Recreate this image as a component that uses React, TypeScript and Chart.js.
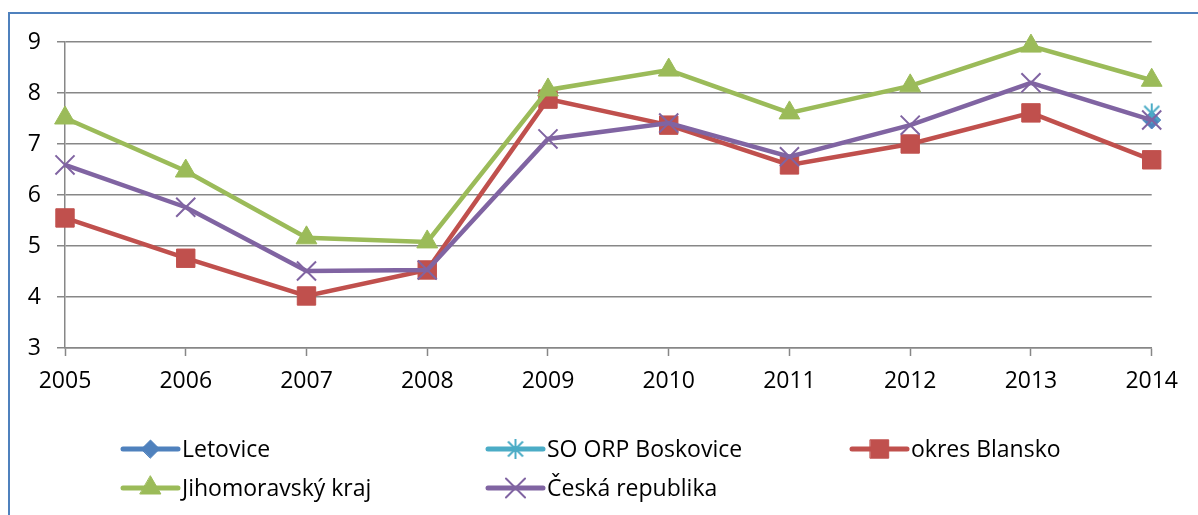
import React, { useEffect, useRef } from 'react';
import { Chart, registerables } from 'chart.js';
import { drawPoint } from 'chart.js/helpers';

Chart.register(...registerables);

const years = ['2005', '2006', '2007', '2008', '2009', '2010', '2011', '2012', '2013', '2014'];
const seriesNames = ['Letovice', 'SO ORP Boskovice', 'okres Blansko', 'Jihomoravský kraj', 'Česká republika'];
const letovice = [null, null, null, null, null, null, null, null, null, 7.47];
const soOrpBoskovice = [null, null, null, null, null, null, null, null, null, 7.6];
const okresBlansko = [5.55, 4.76, 4.02, 4.53, 7.88, 7.37, 6.59, 7.0, 7.61, 6.69];
const jihomoravskyKraj = [7.51, 6.47, 5.16, 5.08, 8.06, 8.45, 7.61, 8.14, 8.92, 8.25];
const ceskaRepublika = [6.59, 5.76, 4.51, 4.53, 7.1, 7.41, 6.75, 7.37, 8.2, 7.47];
const yMin = 3;
const yMax = 9;
const yStep = 1;

const FONT = '"Open Sans", "Liberation Sans", sans-serif';
const GRID = '#878787';

function makeAsterisk(color: string): HTMLCanvasElement {
  const c = document.createElement('canvas');
  c.width = 22;
  c.height = 22;
  const ctx = c.getContext('2d')!;
  ctx.strokeStyle = color;
  ctx.lineWidth = 2;
  ctx.beginPath();
  ctx.moveTo(11, 1);
  ctx.lineTo(11, 21);
  ctx.moveTo(3.5, 3.5);
  ctx.lineTo(18.5, 18.5);
  ctx.moveTo(18.5, 3.5);
  ctx.lineTo(3.5, 18.5);
  ctx.stroke();
  return c;
}

// legend slot layout: [lineStartX, centerY]
const legendSlots: [number, number][] = [
  [115, 441],
  [480, 441],
  [844, 441],
  [115, 480],
  [480, 480],
];

const legendPlugin = {
  id: 'customLegend',
  afterDraw(chart: any) {
    const ctx = chart.ctx as CanvasRenderingContext2D;
    chart.data.datasets.forEach((ds: any, i: number) => {
      const slot = legendSlots[i];
      if (!slot) return;
      const [x0, y] = slot;
      const x1 = x0 + 55;
      ctx.save();
      ctx.strokeStyle = ds.borderColor;
      ctx.lineWidth = 5;
      ctx.lineCap = 'round';
      ctx.beginPath();
      ctx.moveTo(x0, y);
      ctx.lineTo(x1, y);
      ctx.stroke();
      ctx.fillStyle = ds.pointBackgroundColor;
      ctx.strokeStyle = ds.pointBorderColor;
      ctx.lineWidth = ds.pointBorderWidth;
      drawPoint(ctx, {
        pointStyle: ds.pointStyle,
        radius: ds.pointRadius,
        rotation: 0,
        borderWidth: ds.pointBorderWidth,
      } as any, (x0 + x1) / 2, y);
      ctx.fillStyle = '#000000';
      ctx.font = `23px ${FONT}`;
      ctx.textBaseline = 'middle';
      ctx.textAlign = 'left';
      ctx.fillText(ds.label, x1 + 4, y + 1);
      ctx.restore();
    });
  },
};

export default function App() {
  const ref = useRef<HTMLCanvasElement | null>(null);

  useEffect(() => {
    if (!ref.current) return;
    const star = makeAsterisk('#4BACC6');
    const mk = (
      label: string,
      data: (number | null)[],
      color: string,
      pointStyle: any,
      radius: number,
      bw: number,
      order: number,
    ) => ({
      label,
      data,
      borderColor: color,
      backgroundColor: color,
      borderWidth: 4.5,
      pointStyle,
      pointRadius: radius,
      pointHoverRadius: radius,
      pointBackgroundColor: color,
      pointBorderColor: color,
      pointBorderWidth: bw,
      tension: 0,
      clip: false as any,
      order,
    });
    const chart = new Chart(ref.current, {
      type: 'line',
      data: {
        labels: years,
        datasets: [
          mk(seriesNames[0], letovice, '#4F81BD', 'rectRot', 9, 1, 5),
          mk(seriesNames[1], soOrpBoskovice, '#4BACC6', star, 11, 2, 4),
          mk(seriesNames[2], okresBlansko, '#C0504D', 'rect', 13, 1, 3),
          mk(seriesNames[3], jihomoravskyKraj, '#9BBB59', 'triangle', 12, 1, 2),
          mk(seriesNames[4], ceskaRepublika, '#8064A2', 'crossRot', 13.5, 2, 1),
        ] as any,
      },
      options: {
        animation: false,
        responsive: false,
        maintainAspectRatio: false,
        layout: { padding: { left: 0, right: 38, top: 34, bottom: 119 } },
        plugins: {
          legend: { display: false },
          tooltip: { enabled: false },
          title: { display: false },
        },
        scales: {
          x: {
            type: 'category',
            offset: false,
            afterFit: (s: any) => {
              s.height = 40;
            },
            grid: {
              drawOnChartArea: false,
              drawTicks: true,
              tickLength: 8,
              tickColor: GRID,
              tickWidth: 1.5,
            },
            border: { display: true, color: GRID, width: 1.5 },
            ticks: {
              color: '#000000',
              font: { family: FONT, size: 23 },
              padding: 12,
              maxRotation: 0,
              autoSkip: false,
            },
          },
          y: {
            min: yMin,
            max: yMax,
            afterFit: (s: any) => {
              s.width = 57;
            },
            grid: {
              drawOnChartArea: true,
              color: GRID,
              lineWidth: 1.5,
              drawTicks: true,
              tickLength: 8,
              tickColor: GRID,
              tickWidth: 1.5,
            },
            border: { display: true, color: GRID, width: 1.5 },
            ticks: {
              stepSize: yStep,
              color: '#000000',
              font: { family: FONT, size: 23 },
              padding: 16,
            },
          },
        },
      },
      plugins: [legendPlugin],
    });
    return () => chart.destroy();
  }, []);

  return (
    <div style={{ position: 'relative', width: 1182, height: 499, background: '#ffffff' }}>
      <canvas ref={ref} width={1182} height={499} style={{ display: 'block', width: 1182, height: 499 }} />
      <div
        style={{
          position: 'fixed',
          left: 8,
          top: 12,
          width: 1300,
          height: 700,
          borderLeft: '2px solid #4F81BD',
          borderTop: '2px solid #4F81BD',
          boxSizing: 'border-box',
          pointerEvents: 'none',
        }}
      />
    </div>
  );
}
